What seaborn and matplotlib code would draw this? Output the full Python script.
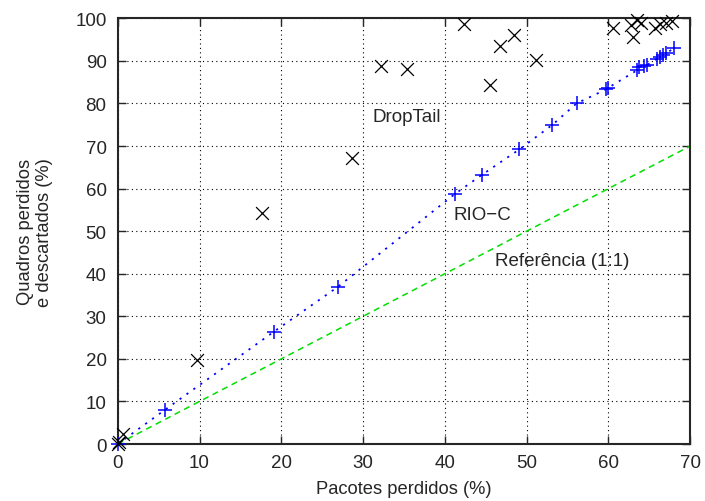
import matplotlib
matplotlib.use("Agg")
import matplotlib.pyplot as plt
import seaborn as sns
import pandas as pd

# DropTail (black x markers)
droptail_x = [0.0, 0.1, 0.65, 9.75, 17.6, 28.6, 32.2, 35.4, 42.4, 45.5, 46.7, 48.4, 51.1,
              60.5, 62.8, 63.0, 63.5, 64.0, 65.7, 66.3, 67.0, 67.8]
droptail_y = [0.0, 0.5, 2.3, 19.8, 54.3, 67.1, 88.8, 88.2, 98.6, 84.4, 93.5, 96.2, 90.3,
              97.8, 98.5, 95.5, 99.5, 99.0, 97.8, 98.6, 99.0, 99.4]

# RIO-C (blue + markers, dotted line)
rioc_x = [0.0, 5.75, 19.1, 26.9, 41.2, 44.5, 49.1, 53.1, 56.1, 59.7, 59.9,
          63.5, 63.8, 64.3, 64.7, 65.9, 66.3, 66.7, 67.1, 68.0]
rioc_y = [0.0, 8.0, 26.4, 36.9, 58.7, 63.2, 69.2, 74.9, 80.0, 83.3, 83.6,
          87.8, 88.5, 88.9, 89.0, 90.5, 91.0, 91.5, 91.8, 93.0]

# Reference line (1:1)
ref_x = [0, 70]
ref_y = [0, 70]

x_ticks = [0, 10, 20, 30, 40, 50, 60, 70]
y_ticks = [0, 10, 20, 30, 40, 50, 60, 70, 80, 90, 100]

sns.set_style("ticks")
plt.rcParams["font.family"] = ["Liberation Sans", "DejaVu Sans"]

fig = plt.figure(figsize=(7.05, 5.02), dpi=100)
ax = fig.add_axes([0.167, 0.1135, 0.812, 0.848])

df_dt = pd.DataFrame({"x": droptail_x, "y": droptail_y})
df_rc = pd.DataFrame({"x": rioc_x, "y": rioc_y})
df_ref = pd.DataFrame({"x": ref_x, "y": ref_y})

sns.lineplot(data=df_ref, x="x", y="y", ax=ax, color="#00e000", linestyle=(0, (4, 3)),
             linewidth=1.1, estimator=None, sort=True)
sns.lineplot(data=df_rc, x="x", y="y", ax=ax, color="#0000ff", linestyle=(0, (1.2, 3.5)),
             linewidth=1.3, estimator=None, sort=True)
sns.scatterplot(data=df_rc, x="x", y="y", ax=ax, marker="+", color="#0000ff", s=110,
                linewidth=1.1, clip_on=False, zorder=4)
sns.scatterplot(data=df_dt, x="x", y="y", ax=ax, marker="x", color="black", s=85,
                linewidth=0.9, clip_on=False, zorder=5)

ax.set_xlim(0, 70)
ax.set_ylim(0, 100)
ax.set_xticks(x_ticks)
ax.set_yticks(y_ticks)
ax.grid(True, color="black", linestyle=(0, (1, 3)), linewidth=0.8)
ax.tick_params(direction="in", top=True, right=True, length=6, width=1, labelsize=13.5, pad=7)
ax.tick_params(axis="y", pad=8)
for sp in ax.spines.values():
    sp.set_linewidth(1.5)
    sp.set_visible(True)

ax.set_xlabel("Pacotes perdidos (%)", fontsize=13.2, labelpad=7)
ax.set_ylabel("Quadros perdidos\ne descartados (%)", fontsize=13.2, labelpad=16,
              multialignment="center", linespacing=1.15)

ax.text(35.3, 76.9, "DropTail", fontsize=13.5, ha="center", va="center")
ax.text(44.6, 53.8, "RIO\u2212C", fontsize=13.5, ha="center", va="center")
ax.text(54.3, 43.0, "Refer\u00eancia (1:1)", fontsize=13.5, ha="center", va="center")

fig.savefig("out.png", dpi=100)
